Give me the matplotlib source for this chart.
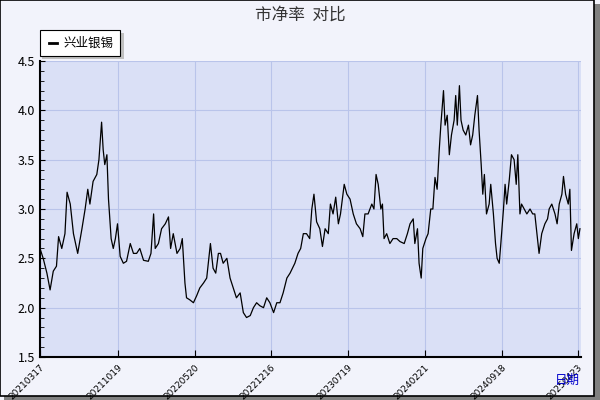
import matplotlib
matplotlib.use('Agg')
import matplotlib.pyplot as plt
from matplotlib.patches import Rectangle

plt.rcParams['font.family'] = ['Noto Sans CJK SC', 'DejaVu Sans']

# trading-day index and price-to-book values
days = [0, 6, 13, 19, 25, 31, 35, 41, 47, 51, 57, 63, 71, 79, 85, 90, 94, 100, 107, 111,
        116, 119, 122, 126, 129, 134, 138, 142, 146, 151, 157, 163, 170, 176, 182, 188, 195,
        204, 209, 214, 217, 223, 229, 236, 242, 246, 251, 258, 264, 268, 273, 276, 282, 289,
        295, 301, 308, 314, 317, 321, 326, 331, 336, 340, 345, 352, 358, 364, 370, 377, 383,
        389, 396, 402, 408, 414, 421, 427, 433, 440, 446, 452, 458, 465, 471, 480, 486, 491,
        496, 502, 508, 512,
        516, 521, 527, 532, 537, 543, 547, 552, 557, 562, 566, 573, 578, 584, 590, 596, 603,
        608, 612, 618, 625, 629, 633, 637, 642, 645, 648, 653, 659, 665, 672, 678, 686, 692,
        697, 703, 706, 711, 714, 718, 721, 727, 731, 736, 740, 744, 748, 752, 755, 760, 763,
        767, 771, 775, 780, 783, 786, 790, 793, 797, 802, 807, 811, 815, 819, 824, 827, 831,
        834, 837, 841, 846, 849, 854, 858, 861, 865, 868, 873, 876, 879, 884, 888, 893, 897,
        900, 904, 907, 912, 917, 923, 928, 932, 937, 940, 945, 951, 956, 959, 964, 970, 974,
        978, 983, 986, 990, 995, 998, 1001, 1006, 1011, 1014, 1017]
pb = [2.6, 2.5, 2.35, 2.18, 2.37, 2.42, 2.72, 2.6, 2.75, 3.17, 3.05, 2.75, 2.55, 2.8, 3.0,
      3.2, 3.05, 3.28, 3.35, 3.5, 3.88, 3.6, 3.45, 3.55, 3.1, 2.7, 2.6, 2.7, 2.85, 2.52, 2.45,
      2.47, 2.65, 2.55, 2.55, 2.6, 2.48, 2.47, 2.55, 2.95, 2.6, 2.65, 2.8, 2.85, 2.92, 2.6,
      2.75, 2.55, 2.6, 2.7, 2.25, 2.1, 2.08, 2.05, 2.12, 2.2, 2.25, 2.3, 2.45, 2.65, 2.4,
      2.35, 2.55, 2.55, 2.45, 2.5, 2.3, 2.2, 2.1, 2.15, 1.95, 1.9, 1.92, 2.0, 2.05, 2.02,
      2.0, 2.1, 2.05, 1.95, 2.05, 2.05, 2.15, 2.3, 2.35, 2.45, 2.55, 2.6, 2.75, 2.75, 2.7,
      3.0,
      3.15, 2.87, 2.8, 2.62, 2.8, 2.75, 3.05, 2.95, 3.12, 2.85, 2.95, 3.25, 3.15, 3.1, 2.95,
      2.85, 2.8, 2.72, 2.95, 2.95, 3.05, 3.0, 3.35, 3.25, 3.0, 3.05, 2.7, 2.75, 2.65, 2.7,
      2.7, 2.67, 2.65, 2.75, 2.85, 2.9, 2.65, 2.8, 2.45, 2.3, 2.6, 2.7, 2.75, 3.0, 3.0, 3.32,
      3.2, 3.6, 3.85, 4.2, 3.85, 3.95, 3.55, 3.75, 3.9, 4.15, 3.85, 4.25, 3.9, 3.8, 3.75,
      3.85, 3.65, 3.75, 3.95, 4.15, 3.8, 3.45, 3.15, 3.35, 2.95, 3.05, 3.25, 2.95, 2.65, 2.5,
      2.45, 2.65, 3.0, 3.25, 3.05, 3.3, 3.55, 3.5, 3.25, 3.55, 2.95, 3.05, 3.0, 2.95, 3.0,
      2.95, 2.95, 2.7, 2.55, 2.75, 2.85, 2.9, 3.0, 3.05, 2.95, 2.85, 3.05, 3.15, 3.33, 3.15,
      3.05, 3.2, 2.58, 2.75, 2.85, 2.7, 2.8]
tick_days = [0, 146, 292, 435, 580, 725, 870, 1013]
tick_labels = ['20210317', '20211019', '20220520', '20221216', '20230719',
               '20240221', '20240918', '20250423']

fig = plt.figure(figsize=(6, 4), dpi=100)
fig.patch.set_facecolor('#F2F3FB')
# outer frame with shadow
fig.patches.append(Rectangle((0.006, 0.0), 0.994, 0.99, transform=fig.transFigure,
                             facecolor='#808080', edgecolor='none', zorder=-2))
fig.patches.append(Rectangle((0.0, 0.01), 0.99, 0.99, transform=fig.transFigure,
                             facecolor='#F2F3FB', edgecolor='black', lw=1.2, zorder=-1))

ax = fig.add_axes([40 / 600, 43 / 400, 541 / 600, 296 / 400])
ax.set_facecolor('#DAE0F6')
ax.plot(days, pb, color='black', lw=0.9)
ax.set_xlim(0, 1019)
ax.set_ylim(1.5, 4.5)
ax.set_yticks([1.5, 2.0, 2.5, 3.0, 3.5, 4.0, 4.5])
ax.set_yticks([1.5 + 0.1 * i for i in range(31)], minor=True)
ax.set_xticks(tick_days)
ax.set_xticklabels(tick_labels, rotation=45, ha='right', rotation_mode='anchor',
                   fontsize=6.5, family='DejaVu Sans')
ax.tick_params(axis='y', which='both', direction='in', labelsize=9)
ax.tick_params(axis='y', which='minor', length=3)
ax.tick_params(axis='x', direction='in', length=5, pad=4)
ax.grid(True, color='#B9C4EA', lw=0.8)
for s in ['top', 'right']:
    ax.spines[s].set_visible(False)
ax.spines['left'].set_linewidth(1.5)
ax.spines['bottom'].set_linewidth(1.5)

fig.text(0.5, 0.962, '市净率  对比', ha='center', va='center', fontsize=12, color='#333333')
fig.text(0.945, 0.05, '日期', ha='center', va='center', fontsize=9, color='#0000CC')

# legend box with shadow
fig.patches.append(Rectangle((42 / 600, 341 / 400), 82 / 600, 26 / 400, transform=fig.transFigure,
                             facecolor='#C0C0C0', edgecolor='none'))
fig.patches.append(Rectangle((40 / 600, 344 / 400), 80 / 600, 26 / 400, transform=fig.transFigure,
                             facecolor='white', edgecolor='black', lw=0.8))
fig.lines.append(plt.Line2D([49 / 600, 57 / 600], [357 / 400, 357 / 400],
                            transform=fig.transFigure, color='black', lw=2))
fig.text(63 / 600, 357 / 400, '兴业银锡', va='center', fontsize=9)

fig.savefig('out.png', dpi=100, facecolor=fig.get_facecolor())
